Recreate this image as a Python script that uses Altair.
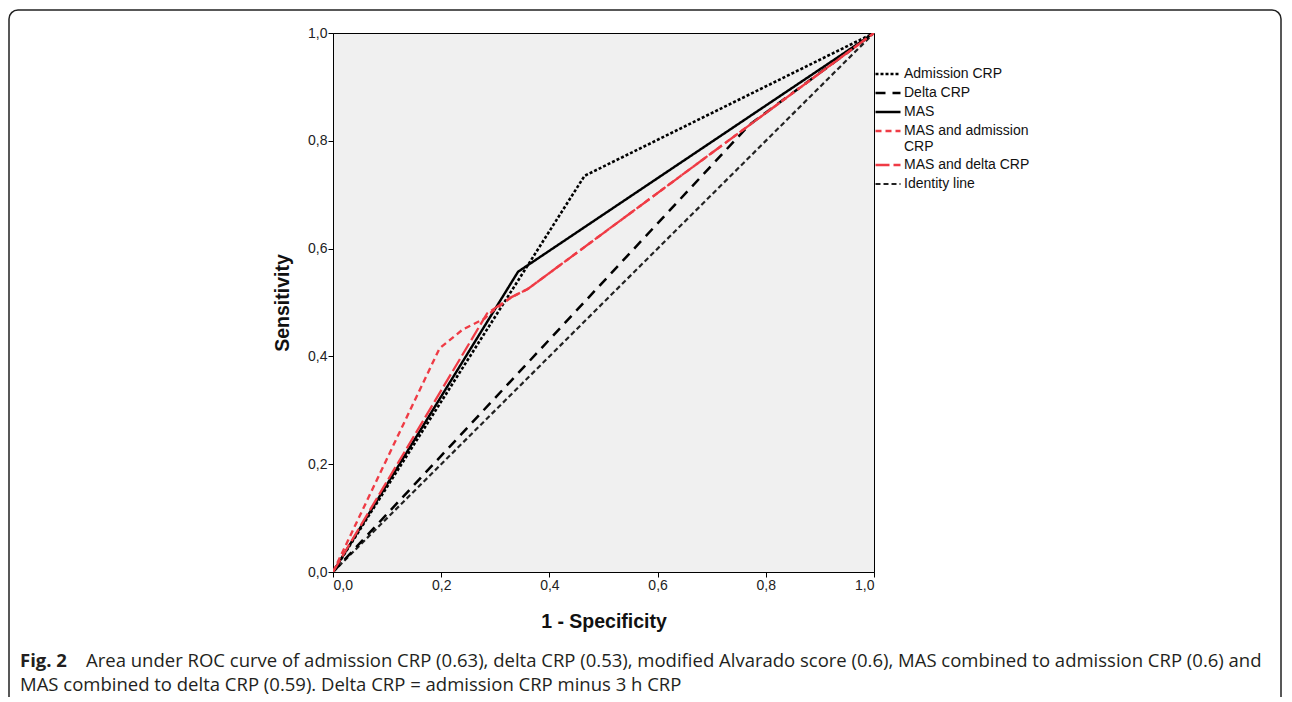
import altair as alt
import pandas as pd

# ---- data ----
series_names = ["Admission CRP", "Delta CRP", "MAS", "MAS and admission CRP",
                "MAS and delta CRP", "Identity line"]

adm_x = [0.0, 0.465, 1.0]
adm_y = [0.0, 0.735, 1.0]

delta_x = [0.0, 0.77, 1.0]
delta_y = [0.0, 0.83, 1.0]

mas_x = [0.0, 0.342, 1.0]
mas_y = [0.0, 0.557, 1.0]

mas_adm_x = [0.0, 0.197, 0.24, 0.28, 0.29, 0.33, 0.36, 1.0]
mas_adm_y = [0.0, 0.415, 0.45, 0.47, 0.48, 0.51, 0.525, 1.0]

mas_del_x = [0.0, 0.285, 0.33, 0.36, 1.0]
mas_del_y = [0.0, 0.48, 0.51, 0.525, 1.0]

ident_x = [0.0, 1.0]
ident_y = [0.0, 1.0]

series_colors = ["#000000", "#000000", "#000000", "#ef3b45", "#ef3b45", "#222222"]
series_dash = [[3, 2], [10, 7], [1, 0], [6, 4], [14, 4], [5, 3]]
series_width = [2.6, 2.2, 2.4, 2.8, 2.6, 0.7]

tick_values = [0.0, 0.2, 0.4, 0.6, 0.8, 1.0]

caption_bold = "Fig. 2"
caption_line1 = ("Area under ROC curve of admission CRP (0.63), delta CRP (0.53), modified "
                 "Alvarado score (0.6), MAS combined to admission CRP (0.6) and")
caption_line2 = "MAS combined to delta CRP (0.59). Delta CRP = admission CRP minus 3 h CRP"

# ---- build table ----
rows = []
for name, xs, ys in [
    ("Identity line", ident_x, ident_y),
    ("Delta CRP", delta_x, delta_y),
    ("Admission CRP", adm_x, adm_y),
    ("MAS", mas_x, mas_y),
    ("MAS and delta CRP", mas_del_x, mas_del_y),
    ("MAS and admission CRP", mas_adm_x, mas_adm_y),
]:
    for i, (a, b) in enumerate(zip(xs, ys)):
        rows.append({"series": name, "fpr": a, "tpr": b, "i": i})
df = pd.DataFrame(rows)

label_fmt = "replace(format(datum.value, '.1f'), '.', ',')"

lines = alt.Chart(df).mark_line(clip=True).encode(
    x=alt.X("fpr:Q", scale=alt.Scale(domain=[0, 1], nice=False),
            axis=alt.Axis(values=tick_values, labelExpr=label_fmt, title="1 - Specificity",
                          titleY=40, titleBaseline="top")),
    y=alt.Y("tpr:Q", scale=alt.Scale(domain=[0, 1], nice=False),
            axis=alt.Axis(values=tick_values, labelExpr=label_fmt, title="Sensitivity",
                          titleX=-60, titleY=269.5, titleBaseline="top", titleAlign="center")),
    color=alt.Color("series:N", scale=alt.Scale(domain=series_names, range=series_colors),
                    legend=alt.Legend(
                        title=None, orient="none", legendX=541, legendY=33,
                        symbolType="stroke", symbolSize=625, clipHeight=16,
                        labelFont="Liberation Sans",
                        labelFontSize=14, labelColor="#111", labelOffset=2, rowPadding=3,
                        labelLimit=300, padding=0,
                        labelExpr="datum.label == 'MAS and admission CRP' ? ['MAS and admission', 'CRP'] : datum.label")),
    strokeDash=alt.StrokeDash("series:N", scale=alt.Scale(domain=series_names, range=series_dash)),
    strokeWidth=alt.StrokeWidth("series:N", scale=alt.Scale(domain=series_names, range=series_width)),
    order="i:Q",
)

cap_df = pd.DataFrame({"b": [caption_bold], "l1": [caption_line1], "l2": [caption_line2]})
cap_font = "Open Sans"
cap_bold = alt.Chart(cap_df).mark_text(align="left", baseline="alphabetic", font=cap_font,
                                       fontSize=18.5, fontWeight="bold", color="#231f20").encode(
    x=alt.value(-313), y=alt.value(634), text="b:N")
cap_l1 = alt.Chart(cap_df).mark_text(align="left", baseline="alphabetic", font=cap_font,
                                     fontSize=18.5, color="#231f20").encode(
    x=alt.value(-247), y=alt.value(634), text="l1:N")
cap_l2 = alt.Chart(cap_df).mark_text(align="left", baseline="alphabetic", font=cap_font,
                                     fontSize=18.5, color="#231f20").encode(
    x=alt.value(-313), y=alt.value(658), text="l2:N")

border = alt.Chart(cap_df).mark_rect(filled=False, stroke="#222", strokeWidth=1.5,
                                     cornerRadius=9).encode(
    x=alt.value(-324), x2=alt.value(948), y=alt.value(-23), y2=alt.value(720))

chart = alt.layer(border, lines, cap_bold, cap_l1, cap_l2).properties(
    width=541, height=539,
    autosize=alt.AutoSizeParams(type="none"),
    padding={"left": 325, "top": 25, "right": 408, "bottom": 125},
    background="white",
).configure_view(
    fill="#f0f0f0", stroke="black", strokeWidth=1
).configure_axis(
    grid=False, domainColor="black", tickColor="black", tickSize=5, labelPadding=1,
    labelFont="Liberation Sans", labelFontSize=14, labelColor="#222",
    titleFont="Liberation Sans", titleFontSize=19.5, titleFontWeight="bold", titleColor="#111",
)

chart.save("out.html", embed_options={"renderer": "svg", "actions": False})
